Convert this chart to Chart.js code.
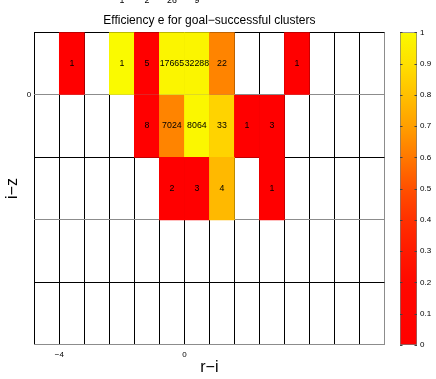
<!DOCTYPE html>
<html>
<head>
<meta charset="utf-8">
<script src="https://cdn.jsdelivr.net/npm/chart.js@4.4.1/dist/chart.umd.min.js"></script>
<style>
  body { margin: 0; background: #fff; }
  #wrap { position: relative; width: 436px; height: 379px; }
  canvas { position: absolute; left: 0; top: 0; }
</style>
</head>
<body>
<div id="wrap">
  <canvas id="effChart" width="436" height="379"></canvas>
  <canvas id="barChart" width="436" height="379"></canvas>
</div>
<script>
// bin edges and centres
var rEdges = [-4.8, -4.0, -3.2, -2.4, -1.6, -0.8, 0, 0.8, 1.6, 2.4, 3.2, 4.0, 4.8, 5.6, 6.4];
var rCenters = [-4.4, -3.6, -2.8, -2.0, -1.2, -0.4, 0.4, 1.2, 2.0, 2.8, 3.6, 4.4, 5.2, 6.0];
var zEdges = [-4, -3, -2, -1, 0, 1];
var zRows = [1.5, 0.5, -0.5, -1.5];

// number of clusters per cell (row above the axes is only partly visible)
var countsZ1  = [null, null, null, 1, 2, 26, 9, null, null, null, null, null, null, null];
var countsZ0  = [null, 1, null, 1, 5, 17665, 32288, 22, null, null, 1, null, null, null];
var countsZm1 = [null, null, null, null, 8, 7024, 8064, 33, 1, 3, null, null, null, null];
var countsZm2 = [null, null, null, null, null, 2, 3, 4, null, 1, null, null, null, null];

// efficiency per cell
var effZ1  = [null, null, null, null, null, null, null, null, null, null, null, null, null, null];
var effZ0  = [null, 0, null, 1.0, 0, 0.98, 0.98, 0.63, null, null, 0, null, null, null];
var effZm1 = [null, null, null, null, 0, 0.63, 0.99, 0.86, 0, 0, null, null, null, null];
var effZm2 = [null, null, null, null, null, 0, 0, 0.78, null, 0, null, null, null, null];

var cbTicks = [0, 0.1, 0.2, 0.3, 0.4, 0.5, 0.6, 0.7, 0.8, 0.9, 1];

var countRows = [countsZ1, countsZ0, countsZm1, countsZm2];
var effRows = [effZ1, effZ0, effZm1, effZm2];

// red -> yellow colour map as seen in the colour bar
var cmap = [
  [0.0, [255, 0, 0]], [0.2, [255, 8, 0]], [0.3, [255, 26, 0]], [0.4, [255, 48, 0]],
  [0.5, [255, 80, 0]], [0.6, [255, 120, 0]], [0.7, [255, 159, 0]], [0.8, [255, 192, 0]],
  [0.9, [255, 224, 0]], [1.0, [250, 250, 0]]
];
function effColor(e) {
  for (var i = 1; i < cmap.length; i++) {
    if (e <= cmap[i][0]) {
      var a = cmap[i - 1], b = cmap[i];
      var t = (e - a[0]) / (b[0] - a[0]);
      var c = a[1].map(function (v, k) { return Math.round(v + (b[1][k] - v) * t); });
      return 'rgb(' + c.join(',') + ')';
    }
  }
  return 'rgb(250,250,0)';
}

var cells = [];
effRows.forEach(function (row, r) {
  row.forEach(function (e, c) {
    if (e === null) return;
    cells.push({ x: rCenters[c], y: [zRows[r] - 0.5, zRows[r] + 0.5], e: e });
  });
});

var FONT = "'Liberation Sans', Arial, sans-serif";

var cellLabels = {
  id: 'cellLabels',
  afterDraw: function (chart) {
    var ctx = chart.ctx, xs = chart.scales.x, ys = chart.scales.y;
    ctx.save();
    ctx.font = '8.8px ' + FONT;
    ctx.fillStyle = '#000';
    ctx.textAlign = 'center';
    ctx.textBaseline = 'middle';
    countRows.forEach(function (row, r) {
      row.forEach(function (n, c) {
        if (n === null) return;
        ctx.fillText(String(n), xs.getPixelForValue(rCenters[c]), ys.getPixelForValue(zRows[r]));
      });
    });
    ctx.restore();
  }
};

new Chart(document.getElementById('effChart'), {
  type: 'bar',
  data: {
    datasets: [{
      data: cells,
      backgroundColor: function (c) { return c.raw ? effColor(c.raw.e) : 'transparent'; },
      borderWidth: 0,
      barPercentage: 1,
      categoryPercentage: 1
    }]
  },
  options: {
    responsive: false,
    devicePixelRatio: 1,
    animation: false,
    layout: { padding: { left: 0, right: 51.5, top: 0, bottom: 0 } },
    plugins: {
      legend: { display: false },
      tooltip: { enabled: false },
      title: {
        display: true,
        fullSize: false,
        text: 'Efficiency e for goal\u2212successful clusters',
        color: '#000',
        font: { family: FONT, size: 12, weight: 'normal' },
        padding: { top: 13, bottom: 4.9 }
      }
    },
    scales: {
      x: {
        type: 'linear',
        min: -4.8,
        max: 6.4,
        offset: false,
        z: 1,
        afterBuildTicks: function (s) { s.ticks = rEdges.map(function (v) { return { value: v }; }); },
        afterFit: function (s) { s.height = 34.2; },
        grid: {
          offset: false,
          drawTicks: false,
          color: function (c) { return c.tick && Math.abs(c.tick.value - 6.4) < 1e-6 ? '#8c8c8c' : '#000'; }
        },
        border: { display: false },
        ticks: {
          autoSkip: false,
          maxRotation: 0,
          padding: 5,
          color: '#000',
          font: { family: FONT, size: 8 },
          callback: function (v) { return v === -4 ? '\u22124' : (v === 0 ? '0' : ''); }
        },
        title: {
          display: true,
          text: 'r\u2212i',
          color: '#000',
          font: { family: FONT, size: 16 },
          padding: { top: 0, bottom: 2 }
        }
      },
      y: {
        type: 'linear',
        min: -4,
        max: 1,
        z: 1,
        afterBuildTicks: function (s) { s.ticks = zEdges.map(function (v) { return { value: v }; }); },
        afterFit: function (s) { s.width = 34.3; },
        grid: {
          drawTicks: false,
          color: function (c) {
            var v = c.tick ? c.tick.value : 1;
            return (v === 0 || v === -2 || v === -4) ? '#8c8c8c' : '#000';
          }
        },
        border: { display: false },
        ticks: {
          padding: 3,
          color: '#000',
          font: { family: FONT, size: 8 },
          callback: function (v) { return v === 0 ? '0' : ''; }
        },
        title: {
          display: true,
          text: 'i\u2212z',
          color: '#000',
          font: { family: FONT, size: 16 },
          padding: { top: 3.3, bottom: 0 }
        }
      }
    }
  },
  plugins: [cellLabels]
});

// short tick marks on both inner edges of the colour bar
var barTicks = {
  id: 'barTicks',
  afterDraw: function (chart) {
    var ctx = chart.ctx, ys = chart.scales.y, a = chart.chartArea;
    ctx.save();
    ctx.strokeStyle = '#444';
    ctx.lineWidth = 1;
    ctx.beginPath();
    cbTicks.forEach(function (v) {
      var y = Math.round(ys.getPixelForValue(v)) + 0.5;
      ctx.moveTo(a.left, y); ctx.lineTo(a.left + 2.5, y);
      ctx.moveTo(a.right - 2.5, y); ctx.lineTo(a.right, y);
    });
    ctx.stroke();
    ctx.restore();
  }
};

// colour bar
new Chart(document.getElementById('barChart'), {
  type: 'bar',
  data: {
    labels: ['e'],
    datasets: [{
      data: [[0, 1]],
      backgroundColor: function (c) {
        var a = c.chart.chartArea;
        if (!a) return null;
        var g = c.chart.ctx.createLinearGradient(0, a.bottom, 0, a.top);
        cmap.forEach(function (s) { g.addColorStop(s[0], 'rgb(' + s[1].join(',') + ')'); });
        return g;
      },
      borderColor: '#7a7a7a',
      borderWidth: 1,
      borderSkipped: false,
      barPercentage: 1,
      categoryPercentage: 1
    }]
  },
  options: {
    responsive: false,
    devicePixelRatio: 1,
    animation: false,
    layout: { padding: { left: 400, right: 0, top: 32.3, bottom: 34 } },
    plugins: { legend: { display: false }, tooltip: { enabled: false } },
    scales: {
      x: { display: false },
      y: {
        position: 'right',
        min: 0,
        max: 1,
        afterBuildTicks: function (s) { s.ticks = cbTicks.map(function (v) { return { value: v }; }); },
        afterFit: function (s) { s.width = 19; },
        grid: { display: false, drawTicks: false },
        border: { display: false },
        ticks: {
          padding: 3,
          color: '#000',
          font: { family: FONT, size: 8 },
          callback: function (v) { return String(Number(v.toFixed(1))); }
        }
      }
    }
  },
  plugins: [barTicks]
});
</script>
</body>
</html>
